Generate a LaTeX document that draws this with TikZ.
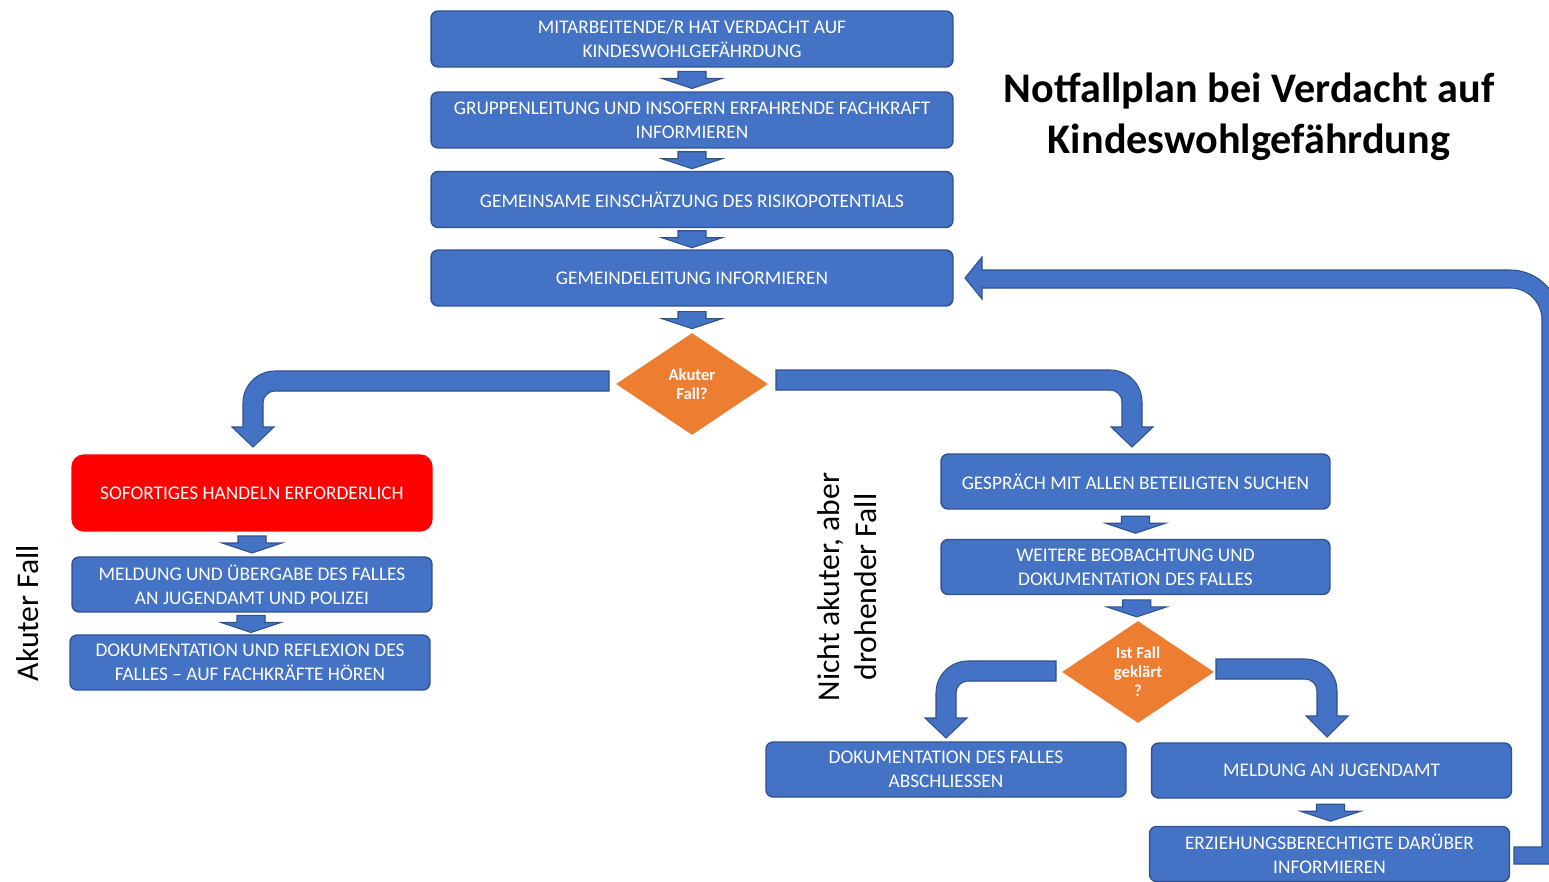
\documentclass[tikz,border=0pt]{standalone}
\usepackage{fontspec}
\setmainfont{Carlito}
\usetikzlibrary{shapes.geometric,calc}

\definecolor{boxblue}{HTML}{4472C4}
\definecolor{boxline}{HTML}{2F528F}
\definecolor{decorange}{HTML}{ED7D31}

\newcommand{\boxfont}{\fontsize{11}{13.7}\selectfont}
\newcommand{\decfont}{\bfseries\fontsize{9.5}{10.8}\selectfont}
\newcommand{\sidefont}{\fontsize{18}{21}\selectfont}

\tikzset{
  box/.style={draw=boxline, fill=boxblue, line width=0.8pt,
    rounded corners=0.14cm, text=white, align=center, inner sep=0pt,
    font=\boxfont},
  topbox/.style={box, minimum width=10.44cm, minimum height=1.12cm},
  sidebox/.style={box, minimum width=7.2cm, minimum height=1.1cm},
  rightbox/.style={box, minimum width=7.78cm, minimum height=1.1cm},
  alarmbox/.style={box, draw=red, fill=red, rounded corners=0.24cm,
    minimum width=7.2cm, minimum height=1.52cm},
  decision/.style={diamond, fill=decorange, text=white, align=center,
    inner sep=0pt, minimum width=3.04cm, minimum height=2.04cm,
    font=\decfont},
  blockarrow/.style={draw=boxline, fill=boxblue, line width=0.6pt,
    line join=miter},
  sidelabel/.style={rotate=90, align=center, font=\sidefont}
}

% small down arrow halfway between two nodes
\newcommand{\smallblock}[2]{%
  \path ($(#1.south)!0.5!(#2.north)$) coordinate (mid);
  \filldraw[blockarrow] ([shift={(-14,-8)}]mid) -- ([shift={(14,-8)}]mid)
    -- ([shift={(14,-1)}]mid) -- ([shift={(30,-1)}]mid)
    -- ([shift={(0,9)}]mid) -- ([shift={(-30,-1)}]mid)
    -- ([shift={(-14,-1)}]mid) -- cycle;}

\begin{document}
\begin{tikzpicture}[x=0.02cm, y=-0.02cm]
    \clip (0,0) rectangle (1549,882); % picture is cut at the right edge

    % main column
    \node[topbox] (verdacht) at (692,39)
        {MITARBEITENDE/R HAT VERDACHT AUF\\KINDESWOHLGEFÄHRDUNG};
    \node[topbox] (gruppe) at (692,120)
        {GRUPPENLEITUNG UND INSOFERN ERFAHRENDE FACHKRAFT\\INFORMIEREN};
    \node[topbox] (risiko) at (692,199.5)
        {GEMEINSAME EINSCHÄTZUNG DES RISIKOPOTENTIALS};
    \node[topbox] (gemeinde) at (692,278) {GEMEINDELEITUNG INFORMIEREN};
    \node[decision] (akut) at (692,384) {Akuter\\Fall?};

    \smallblock{verdacht}{gruppe}
    \smallblock{gruppe}{risiko}
    \smallblock{risiko}{gemeinde}
    \smallblock{gemeinde}{akut}

    \node[font=\bfseries\fontsize{24}{29}\selectfont, align=center]
        (titel) at (1249,117)
        {Notfallplan bei Verdacht auf\\Kindeswohlgefährdung};

    % acute branch
    \node[alarmbox] (sofort) at (252,493) {SOFORTIGES HANDELN ERFORDERLICH};
    \node[sidebox] (meldung) at (252,584.5)
        {MELDUNG UND ÜBERGABE DES FALLES\\AN JUGENDAMT UND POLIZEI};
    \node[sidebox] (reflexion) at (250,662.5)
        {DOKUMENTATION UND REFLEXION DES\\FALLES – AUF FACHKRÄFTE HÖREN};
    \smallblock{sofort}{meldung}
    \smallblock{meldung}{reflexion}
    \node[sidelabel] (akutlabel) at (28,613) {Akuter Fall};

    % not acute branch
    \node[rightbox] (gespraech) at (1135.5,481.5)
        {GESPRÄCH MIT ALLEN BETEILIGTEN SUCHEN};
    \node[rightbox] (beobachtung) at (1135.5,567)
        {WEITERE BEOBACHTUNG UND\\DOKUMENTATION DES FALLES};
    \node[decision] (geklaert) at (1138,672) {Ist Fall\\geklärt\\?};
    \node[sidebox] (abschluss) at (946,769.5)
        {DOKUMENTATION DES FALLES\\ABSCHLIESSEN};
    \node[sidebox] (jugendamt) at (1331.5,770.5) {MELDUNG AN JUGENDAMT};
    \node[sidebox] (eltern) at (1329.5,854)
        {ERZIEHUNGSBERECHTIGTE DARÜBER\\INFORMIEREN};
    \smallblock{gespraech}{beobachtung}
    \smallblock{beobachtung}{geklaert}
    \smallblock{jugendamt}{eltern}
    \node[sidelabel] (drohlabel) at (847,587)
        {Nicht akuter, aber\\drohender Fall};

    % bent arrows out of the decisions
    \filldraw[blockarrow] (609,371) -- (275,371)
        .. controls (257.3,371) and (243,385.3) .. (243,403)
        -- (243,427) -- (232,427) -- (253,447) -- (274,427) -- (263,427)
        -- (263,403) .. controls (263,396.4) and (268.4,391) .. (275,391)
        -- (609,391) -- cycle;
    \filldraw[blockarrow] (776,370) -- (1110,370)
        .. controls (1127.7,370) and (1142,384.3) .. (1142,402)
        -- (1142,427) -- (1153,427) -- (1132,447) -- (1111,427) -- (1122,427)
        -- (1122,402) .. controls (1122,395.4) and (1116.6,390) .. (1110,390)
        -- (776,390) -- cycle;
    \filldraw[blockarrow] (1056,661) -- (968,661)
        .. controls (950.3,661) and (936,675.3) .. (936,693)
        -- (936,718) -- (925,718) -- (946,738) -- (967,718) -- (956,718)
        -- (956,693) .. controls (956,686.4) and (961.4,681) .. (968,681)
        -- (1056,681) -- cycle;
    \filldraw[blockarrow] (1216,659) -- (1305,659)
        .. controls (1322.7,659) and (1337,673.3) .. (1337,691)
        -- (1337,716) -- (1348,716) -- (1327,737) -- (1306,716) -- (1317,716)
        -- (1317,691) .. controls (1317,684.4) and (1311.6,679) .. (1305,679)
        -- (1216,679) -- cycle;

    % loop back to the Gemeindeleitung
    \filldraw[blockarrow] (1514,847) -- (1542,847) -- (1542,320)
        .. controls (1542,302.3) and (1527.7,288) .. (1510,288)
        -- (982,288) -- (982,299) -- (965,278) -- (982,257) -- (982,270)
        -- (1510,270) .. controls (1537.6,270) and (1560,292.4) .. (1560,320)
        -- (1560,864) -- (1514,864) -- cycle;
\end{tikzpicture}
\end{document}
